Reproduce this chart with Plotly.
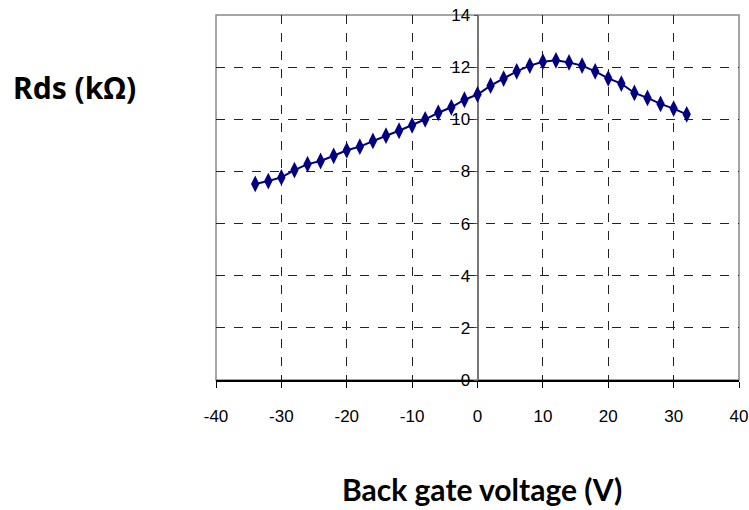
import plotly.graph_objects as go

# Back gate sweep (V) and measured drain-source resistance (kOhm)
gate_voltage = [-34, -32, -30, -28, -26, -24, -22, -20, -18, -16, -14, -12,
                -10, -8, -6, -4, -2, 0, 2, 4, 6, 8, 10, 12, 14, 16, 18, 20,
                22, 24, 26, 28, 30, 32]
rds_kohm = [7.52, 7.63, 7.77, 8.05, 8.28, 8.40, 8.60, 8.81, 8.95, 9.17, 9.37,
            9.56, 9.77, 10.00, 10.25, 10.46, 10.75, 10.95, 11.29, 11.56, 11.84,
            12.06, 12.21, 12.26, 12.18, 12.06, 11.84, 11.57, 11.37, 11.01,
            10.82, 10.59, 10.41, 10.19]

x_ticks = [-40, -30, -20, -10, 0, 10, 20, 30, 40]
y_ticks = [0, 2, 4, 6, 8, 10, 12, 14]

tick_font = dict(family="Liberation Sans Narrow, Liberation Sans, Arial", size=17, color="#000")

fig = go.Figure()
fig.add_trace(go.Scatter(
    x=gate_voltage, y=rds_kohm, mode="lines+markers",
    line=dict(color="#000080", width=2),
    marker=dict(symbol="diamond-tall", size=12, color="#000080"),
    showlegend=False,
))

fig.update_layout(
    width=749, height=510,
    margin=dict(l=216, r=10, t=15, b=130, autoexpand=False),
    paper_bgcolor="white", plot_bgcolor="white",
    xaxis=dict(
        range=[-40, 40], tickvals=x_ticks, ticktext=[str(v) for v in x_ticks],
        automargin=False,
        showgrid=True, gridcolor="#222", gridwidth=1, griddash="dash",
        zeroline=True, zerolinecolor="#777", zerolinewidth=1.5,
        showline=True, linecolor="#000", linewidth=1.5,
        ticks="outside", ticklen=6, tickcolor="#000",
        tickfont=tick_font, ticklabelstandoff=14,
    ),
    yaxis=dict(
        range=[0, 14], tickvals=y_ticks, ticktext=[str(v) for v in y_ticks],
        anchor="free", position=0.5, automargin=False,
        showgrid=True, gridcolor="#222", gridwidth=1, griddash="dash",
        zeroline=False, showline=False,
        ticks="outside", ticklen=4, tickcolor="#555",
        tickfont=tick_font,
    ),
    shapes=[dict(type="rect", xref="paper", yref="paper", x0=0, x1=1, y0=0, y1=1,
                 line=dict(color="#888", width=1.5), layer="below")],
)

# Axis titles placed as free text around the plot area
fig.layout.annotations = [
    dict(text="<b>Rds (kΩ)</b>", xref="paper", yref="paper",
         x=(11 - 216) / 523, y=(380 - 88) / 365, xanchor="left", yanchor="middle",
         showarrow=False, font=dict(family="Noto Sans", size=30, color="#000")),
    dict(text="<b>Back gate voltage (V)</b>", xref="paper", yref="paper",
         x=(482 - 216) / 523, y=(380 - 508) / 365, xanchor="center", yanchor="bottom",
         showarrow=False, borderpad=0, font=dict(family="Lato", size=30, color="#000")),
]

fig.write_html(
    "out.html",
    post_script="document.body.style.margin='0';document.body.style.overflow='hidden';",
)
